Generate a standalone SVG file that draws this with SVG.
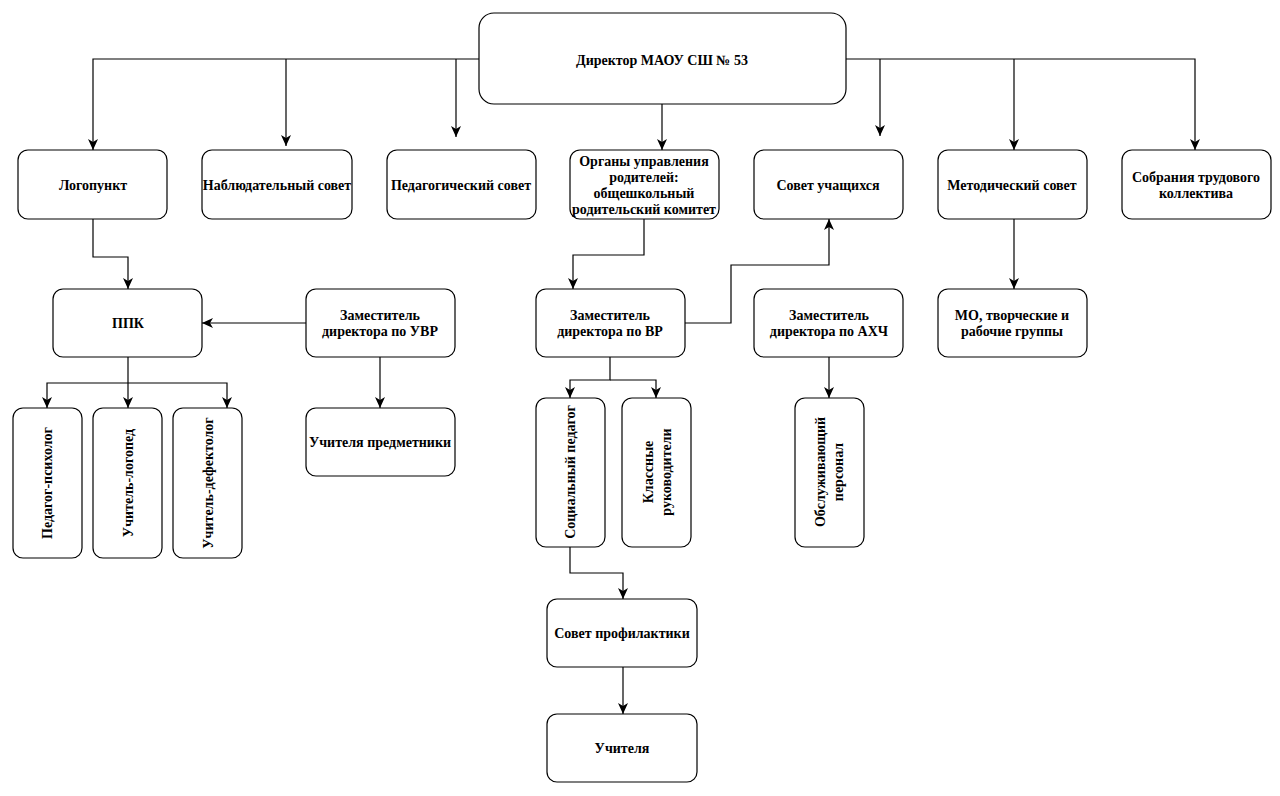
<svg xmlns="http://www.w3.org/2000/svg" width="1280" height="796" viewBox="0 0 1280 796">
<style>
.box{fill:#fff;stroke:#000;stroke-width:1.2}
.t{font-family:"Liberation Serif","Times New Roman",serif;font-weight:bold;font-size:14px;fill:#000;text-anchor:middle;dominant-baseline:central}
.c{fill:none;stroke:#000;stroke-width:1.2}
</style>
<defs>
<marker id="ah" markerUnits="userSpaceOnUse" markerWidth="12" markerHeight="10" refX="11" refY="5" orient="auto">
<path d="M0,0 L11,5 L0,10 L3,5 z" fill="#000"/>
</marker>
</defs>
<rect width="1280" height="796" fill="#fff"/>
<g id="connectors">
<path class="c" d="M479,59 H93 V150" marker-end="url(#ah)"/>
<path class="c" d="M286,59 V146" marker-end="url(#ah)"/>
<path class="c" d="M456,59 V137" marker-end="url(#ah)"/>
<path class="c" d="M662,104 V150" marker-end="url(#ah)"/>
<path class="c" d="M846,59 H1195 V150" marker-end="url(#ah)"/>
<path class="c" d="M880,59 V136" marker-end="url(#ah)"/>
<path class="c" d="M1014,59 V150" marker-end="url(#ah)"/>
<path class="c" d="M93,219 V257 H128 V289" marker-end="url(#ah)"/>
<path class="c" d="M306,323 H202" marker-end="url(#ah)"/>
<path class="c" d="M380,357 V408" marker-end="url(#ah)"/>
<path class="c" d="M128,357 V408" marker-end="url(#ah)"/>
<path class="c" d="M128,383 H47 V408" marker-end="url(#ah)"/>
<path class="c" d="M128,383 H227 V408" marker-end="url(#ah)"/>
<path class="c" d="M644,219 V255 H573 V289" marker-end="url(#ah)"/>
<path class="c" d="M685,323 H731 V265 H829 V219" marker-end="url(#ah)"/>
<path class="c" d="M610,357 V380 H570 V398" marker-end="url(#ah)"/>
<path class="c" d="M610,380 H656 V398" marker-end="url(#ah)"/>
<path class="c" d="M570,547 V573 H623 V599" marker-end="url(#ah)"/>
<path class="c" d="M623,667 V714" marker-end="url(#ah)"/>
<path class="c" d="M829,357 V398" marker-end="url(#ah)"/>
<path class="c" d="M1014,219 V289" marker-end="url(#ah)"/>
</g>
<g id="director"><rect class="box" x="479" y="13" width="367" height="91" rx="15"/><text class="t" x="662" y="60">Директор МАОУ СШ № 53</text></g>
<g id="logopunkt"><rect class="box" x="18" y="150" width="149" height="69" rx="10"/><text class="t" x="93" y="185">Логопункт</text></g>
<g id="nabl"><rect class="box" x="202" y="150" width="150" height="69" rx="10"/><text class="t" x="277" y="185">Наблюдательный совет</text></g>
<g id="ped"><rect class="box" x="387" y="150" width="149" height="69" rx="10"/><text class="t" x="461" y="185">Педагогический совет</text></g>
<g id="organy"><rect class="box" x="570" y="150" width="149" height="69" rx="10"/><text class="t" x="644" y="161">Органы управления</text><text class="t" x="644" y="177">родителей:</text><text class="t" x="644" y="193">общешкольный</text><text class="t" x="644" y="209">родительский комитет</text></g>
<g id="sovet-uch"><rect class="box" x="754" y="150" width="149" height="69" rx="10"/><text class="t" x="828" y="185">Совет учащихся</text></g>
<g id="metod"><rect class="box" x="938" y="150" width="149" height="69" rx="10"/><text class="t" x="1012" y="185">Методический совет</text></g>
<g id="sobr"><rect class="box" x="1122" y="150" width="149" height="69" rx="10"/><text class="t" x="1196" y="177">Собрания трудового</text><text class="t" x="1196" y="193">коллектива</text></g>
<g id="ppk"><rect class="box" x="53" y="289" width="149" height="68" rx="10"/><text class="t" x="128" y="323">ППК</text></g>
<g id="uvr"><rect class="box" x="306" y="289" width="149" height="68" rx="10"/><text class="t" x="380" y="315">Заместитель</text><text class="t" x="380" y="331">директора по УВР</text></g>
<g id="predm"><rect class="box" x="306" y="408" width="149" height="68" rx="10"/><text class="t" x="380" y="442">Учителя предметники</text></g>
<g id="psych"><rect class="box" x="13" y="408" width="69" height="150" rx="10"/><text class="t" transform="translate(47,483) rotate(-90)">Педагог-психолог</text></g>
<g id="logoped"><rect class="box" x="93" y="408" width="69" height="150" rx="10"/><text class="t" transform="translate(128,483) rotate(-90)">Учитель-логопед</text></g>
<g id="defekt"><rect class="box" x="173" y="408" width="69" height="150" rx="10"/><text class="t" transform="translate(208,483) rotate(-90)">Учитель-дефектолог</text></g>
<g id="vr"><rect class="box" x="536" y="289" width="149" height="68" rx="10"/><text class="t" x="610" y="315">Заместитель</text><text class="t" x="610" y="331">директора по ВР</text></g>
<g id="soc"><rect class="box" x="536" y="398" width="69" height="149" rx="10"/><text class="t" transform="translate(570,472) rotate(-90)">Социальный педагог</text></g>
<g id="klass"><rect class="box" x="622" y="398" width="69" height="149" rx="10"/><text class="t" transform="translate(648,472) rotate(-90)">Классные</text><text class="t" transform="translate(666,472) rotate(-90)">руководители</text></g>
<g id="ahch"><rect class="box" x="754" y="289" width="149" height="68" rx="10"/><text class="t" x="829" y="315">Заместитель</text><text class="t" x="829" y="331">директора по АХЧ</text></g>
<g id="obsl"><rect class="box" x="795" y="398" width="69" height="149" rx="10"/><text class="t" transform="translate(820,472) rotate(-90)">Обслуживающий</text><text class="t" transform="translate(838,472) rotate(-90)">персонал</text></g>
<g id="mo"><rect class="box" x="938" y="289" width="149" height="68" rx="10"/><text class="t" x="1012" y="315">МО, творческие и</text><text class="t" x="1012" y="331">рабочие группы</text></g>
<g id="profil"><rect class="box" x="547" y="599" width="150" height="68" rx="10"/><text class="t" x="622" y="633">Совет профилактики</text></g>
<g id="uchitelya"><rect class="box" x="547" y="714" width="150" height="68" rx="10"/><text class="t" x="622" y="748">Учителя</text></g>
</svg>
